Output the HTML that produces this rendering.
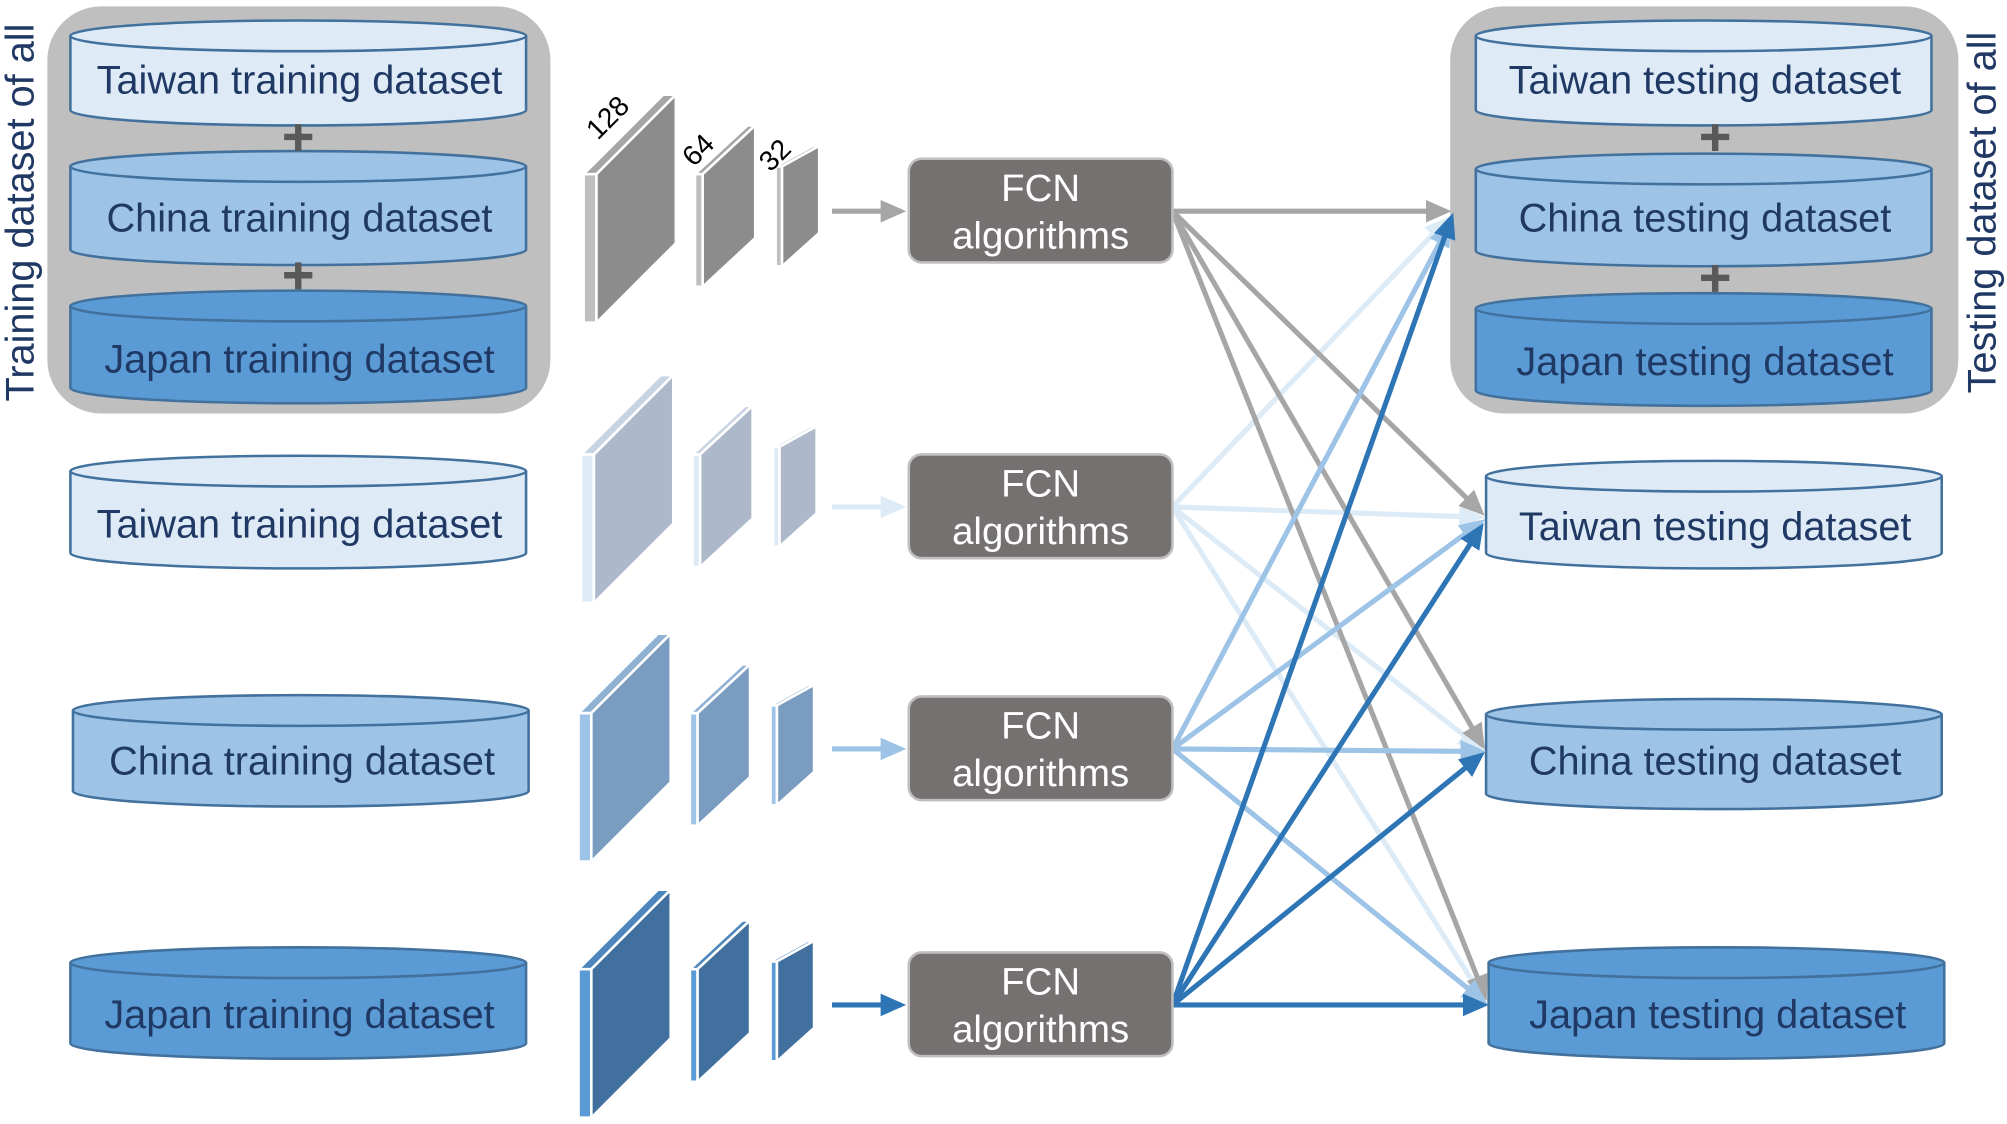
<!DOCTYPE html>
<html><head><meta charset="utf-8"><style>
html,body{margin:0;padding:0;background:#fff;}
svg{display:block;}
text{font-family:"Liberation Sans",sans-serif;}
</style></head><body>
<svg width="2007" height="1124" viewBox="0 0 1568 878" preserveAspectRatio="none" xmlns="http://www.w3.org/2000/svg">
<defs>
<marker id="mg" markerWidth="5" markerHeight="4.4" refX="4" refY="2.2" orient="auto" markerUnits="strokeWidth"><path d="M0,0 L5,2.2 L0,4.4 z" fill="#a6a6a6"/></marker>
<marker id="ml" markerWidth="5" markerHeight="4.4" refX="4" refY="2.2" orient="auto" markerUnits="strokeWidth"><path d="M0,0 L5,2.2 L0,4.4 z" fill="#ddebf7"/></marker>
<marker id="mm" markerWidth="5" markerHeight="4.4" refX="4" refY="2.2" orient="auto" markerUnits="strokeWidth"><path d="M0,0 L5,2.2 L0,4.4 z" fill="#9dc3e6"/></marker>
<marker id="md" markerWidth="5" markerHeight="4.4" refX="4" refY="2.2" orient="auto" markerUnits="strokeWidth"><path d="M0,0 L5,2.2 L0,4.4 z" fill="#2e75b6"/></marker>
</defs>

<rect x="37" y="5" width="393" height="318" rx="42" fill="#bfbfbf"/>
<rect x="1133" y="5" width="397" height="318" rx="42" fill="#bfbfbf"/>

<g stroke="#41719c" stroke-width="2">
<path d="M55,28 L55,86 A178,12 0 0 0 411,86 L411,28" fill="#deebf7"/><ellipse cx="233" cy="28" rx="178" ry="12" fill="#deebf7"/>
<path d="M55,130 L55,195 A178,12 0 0 0 411,195 L411,130" fill="#9dc3e6"/><ellipse cx="233" cy="130" rx="178" ry="12" fill="#9dc3e6"/>
<path d="M55,239 L55,303 A178,12 0 0 0 411,303 L411,239" fill="#5b9bd5"/><ellipse cx="233" cy="239" rx="178" ry="12" fill="#5b9bd5"/>
<path d="M55,368 L55,432 A178,12 0 0 0 411,432 L411,368" fill="#deebf7"/><ellipse cx="233" cy="368" rx="178" ry="12" fill="#deebf7"/>
<path d="M57,555 L57,618 A178,12 0 0 0 413,618 L413,555" fill="#9dc3e6"/><ellipse cx="235" cy="555" rx="178" ry="12" fill="#9dc3e6"/>
<path d="M55,752 L55,815 A178,12 0 0 0 411,815 L411,752" fill="#5b9bd5"/><ellipse cx="233" cy="752" rx="178" ry="12" fill="#5b9bd5"/>
<path d="M1153,28 L1153,86 A178,12 0 0 0 1509,86 L1509,28" fill="#deebf7"/><ellipse cx="1331" cy="28" rx="178" ry="12" fill="#deebf7"/>
<path d="M1153,132 L1153,196 A178,12 0 0 0 1509,196 L1509,132" fill="#9dc3e6"/><ellipse cx="1331" cy="132" rx="178" ry="12" fill="#9dc3e6"/>
<path d="M1153,241 L1153,305 A178,12 0 0 0 1509,305 L1509,241" fill="#5b9bd5"/><ellipse cx="1331" cy="241" rx="178" ry="12" fill="#5b9bd5"/>
<path d="M1161,372 L1161,432 A178,12 0 0 0 1517,432 L1517,372" fill="#deebf7"/><ellipse cx="1339" cy="372" rx="178" ry="12" fill="#deebf7"/>
<path d="M1161,558 L1161,620 A178,12 0 0 0 1517,620 L1517,558" fill="#9dc3e6"/><ellipse cx="1339" cy="558" rx="178" ry="12" fill="#9dc3e6"/>
<path d="M1163,752 L1163,815 A178,12 0 0 0 1519,815 L1519,752" fill="#5b9bd5"/><ellipse cx="1341" cy="752" rx="178" ry="12" fill="#5b9bd5"/>
</g>

<g stroke="#595959" stroke-width="5">
<path d="M222,107 H244 M233,97 V118"/><path d="M222,215 H244 M233,205 V226"/>
<path d="M1329,107 H1351 M1340,97 V118"/><path d="M1329,217 H1351 M1340,207 V228"/>
</g>

<g fill="#1f3864" font-size="31" text-anchor="middle">
<text x="234" y="73">Taiwan training dataset</text>
<text x="234" y="181">China training dataset</text>
<text x="234" y="291">Japan training dataset</text>
<text x="234" y="420">Taiwan training dataset</text>
<text x="236" y="605">China training dataset</text>
<text x="234" y="803">Japan training dataset</text>
<text x="1332" y="73">Taiwan testing dataset</text>
<text x="1332" y="181">China testing dataset</text>
<text x="1332" y="293">Japan testing dataset</text>
<text x="1340" y="422">Taiwan testing dataset</text>
<text x="1340" y="605">China testing dataset</text>
<text x="1342" y="803">Japan testing dataset</text>
<text transform="translate(26,166) rotate(-90)">Training dataset of all</text>
<text transform="translate(1559,166) rotate(-90)">Testing dataset of all</text>
</g>

<g stroke="#fff" stroke-width="2">
<g>
<polygon points="456,136 466,136 466,252 456,252" fill="#bfbfbf"/>
<polygon points="456,136 518,74 528,74 466,136" fill="#a6a6a6"/>
<polygon points="466,136 528,74 528,190 466,252" fill="#8c8c8c"/>
<polygon points="543,136 549,136 549,224 543,224" fill="#bfbfbf"/>
<polygon points="543,136 584,98 590,98 549,136" fill="#a6a6a6"/>
<polygon points="549,136 590,98 590,186 549,224" fill="#8c8c8c"/>
<polygon points="606,130 611,130 611,208 606,208" fill="#bfbfbf"/>
<polygon points="606,130 635,114 640,114 611,130" fill="#a6a6a6"/>
<polygon points="611,130 640,114 640,182 611,208" fill="#8c8c8c"/>
</g>
<g transform="translate(-2,219)">
<polygon points="456,136 466,136 466,252 456,252" fill="#deebf7"/>
<polygon points="456,136 518,74 528,74 466,136" fill="#c9d4e2"/>
<polygon points="466,136 528,74 528,190 466,252" fill="#adb9ca"/>
<polygon points="543,136 549,136 549,224 543,224" fill="#deebf7"/>
<polygon points="543,136 584,98 590,98 549,136" fill="#c9d4e2"/>
<polygon points="549,136 590,98 590,186 549,224" fill="#adb9ca"/>
<polygon points="606,130 611,130 611,208 606,208" fill="#deebf7"/>
<polygon points="606,130 635,114 640,114 611,130" fill="#c9d4e2"/>
<polygon points="611,130 640,114 640,182 611,208" fill="#adb9ca"/>
</g>
<g transform="translate(-4,421)">
<polygon points="456,136 466,136 466,252 456,252" fill="#9dc3e6"/>
<polygon points="456,136 518,74 528,74 466,136" fill="#8fb1d4"/>
<polygon points="466,136 528,74 528,190 466,252" fill="#7a9cc0"/>
<polygon points="543,136 549,136 549,224 543,224" fill="#9dc3e6"/>
<polygon points="543,136 584,98 590,98 549,136" fill="#8fb1d4"/>
<polygon points="549,136 590,98 590,186 549,224" fill="#7a9cc0"/>
<polygon points="606,130 611,130 611,208 606,208" fill="#9dc3e6"/>
<polygon points="606,130 635,114 640,114 611,130" fill="#8fb1d4"/>
<polygon points="611,130 640,114 640,182 611,208" fill="#7a9cc0"/>
</g>
<g transform="translate(-4,621)">
<polygon points="456,136 466,136 466,252 456,252" fill="#5b9bd5"/>
<polygon points="456,136 518,74 528,74 466,136" fill="#4d86bd"/>
<polygon points="466,136 528,74 528,190 466,252" fill="#41709e"/>
<polygon points="543,136 549,136 549,224 543,224" fill="#5b9bd5"/>
<polygon points="543,136 584,98 590,98 549,136" fill="#4d86bd"/>
<polygon points="549,136 590,98 590,186 549,224" fill="#41709e"/>
<polygon points="606,130 611,130 611,208 606,208" fill="#5b9bd5"/>
<polygon points="606,130 635,114 640,114 611,130" fill="#4d86bd"/>
<polygon points="611,130 640,114 640,182 611,208" fill="#41709e"/>
</g>
</g>

<g stroke-width="4" fill="none">
<line x1="650" y1="165" x2="704" y2="165" stroke="#a6a6a6" marker-end="url(#mg)"/>
<line x1="650" y1="396" x2="704" y2="396" stroke="#ddebf7" marker-end="url(#ml)"/>
<line x1="650" y1="585" x2="704" y2="585" stroke="#9dc3e6" marker-end="url(#mm)"/>
<line x1="650" y1="785" x2="704" y2="785" stroke="#2e75b6" marker-end="url(#md)"/>
</g>

<g stroke-width="4" fill="none">
<g stroke="#ddebf7" marker-end="url(#ml)">
<line x1="916" y1="396" x2="1130" y2="172"/>
<line x1="916" y1="396" x2="1156" y2="404"/>
<line x1="916" y1="396" x2="1156" y2="584"/>
<line x1="916" y1="396" x2="1159" y2="780"/>
</g>
<g stroke="#a6a6a6" marker-end="url(#mg)">
<line x1="916" y1="165" x2="1130" y2="165"/>
<line x1="916" y1="165" x2="1157" y2="400"/>
<line x1="916" y1="165" x2="1158" y2="582"/>
<line x1="916" y1="165" x2="1160" y2="778"/>
</g>
<g stroke="#9dc3e6" marker-end="url(#mm)">
<line x1="916" y1="585" x2="1132" y2="176"/>
<line x1="916" y1="585" x2="1157" y2="408"/>
<line x1="916" y1="585" x2="1157" y2="587"/>
<line x1="916" y1="585" x2="1159" y2="782"/>
</g>
<g stroke="#2e75b6" marker-end="url(#md)">
<line x1="916" y1="785" x2="1134" y2="170"/>
<line x1="916" y1="785" x2="1157" y2="412"/>
<line x1="916" y1="785" x2="1157" y2="590"/>
<line x1="916" y1="785" x2="1159" y2="785"/>
</g>
</g>

<g>
<rect x="710" y="124" width="206" height="81" rx="10" fill="#767171" stroke="#bfbfbf" stroke-width="2"/>
<rect x="710" y="355" width="206" height="81" rx="10" fill="#767171" stroke="#bfbfbf" stroke-width="2"/>
<rect x="710" y="544" width="206" height="81" rx="10" fill="#767171" stroke="#bfbfbf" stroke-width="2"/>
<rect x="710" y="744" width="206" height="81" rx="10" fill="#767171" stroke="#bfbfbf" stroke-width="2"/>
</g>
<g fill="#fff" font-size="30" text-anchor="middle">
<text x="813" y="157">FCN</text><text x="813" y="194">algorithms</text>
<text x="813" y="388">FCN</text><text x="813" y="425">algorithms</text>
<text x="813" y="577">FCN</text><text x="813" y="614">algorithms</text>
<text x="813" y="777">FCN</text><text x="813" y="814">algorithms</text>
</g>

<g fill="#000" font-size="22">
<text transform="translate(467,110) rotate(-45)">128</text>
<text transform="translate(542,131) rotate(-45)">64</text>
<text transform="translate(602,135) rotate(-45)">32</text>
</g>
</svg>
</body></html>
